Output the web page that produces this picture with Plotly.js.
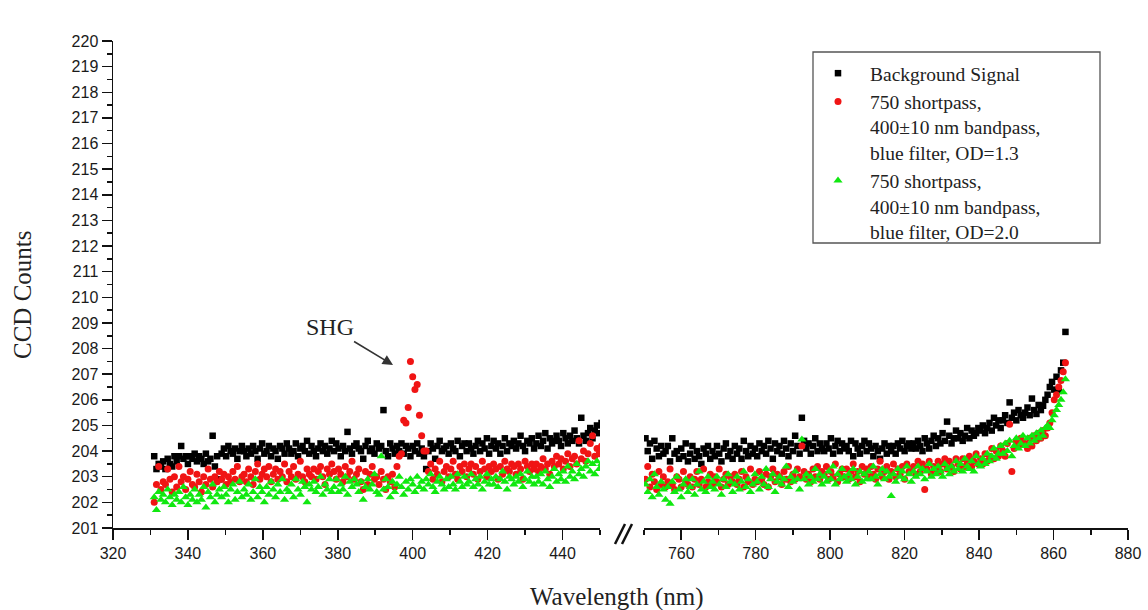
<!DOCTYPE html>
<html>
<head>
<meta charset="utf-8">
<script src="https://cdn.plot.ly/plotly-3.0.1.min.js"></script>
<style>html,body{margin:0;padding:0;background:#fff;}#chart{width:1148px;height:610px;}</style>
</head>
<body>
<div id="chart"></div>
<script>
// ---------- DATA ----------
const seriesNames = [
  "Background Signal",
  "750 shortpass,<br>400\u00b110 nm bandpass,<br>blue filter, OD=1.3",
  "750 shortpass,<br>400\u00b110 nm bandpass,<br>blue filter, OD=2.0"
];

const wlLeft = [
331,331.6,332.2,332.8,333.4,334,334.6,335.2,335.8,336.4,
337,337.6,338.2,338.8,339.4,340,340.6,341.2,341.8,342.4,
343,343.6,344.2,344.8,345.4,346,346.6,347.2,347.8,348.4,
349,349.6,350.2,350.8,351.4,352,352.6,353.2,353.8,354.4,
355,355.6,356.2,356.8,357.4,358,358.6,359.2,359.8,360.4,
361,361.6,362.2,362.8,363.4,364,364.6,365.2,365.8,366.4,
367,367.6,368.2,368.8,369.4,370,370.6,371.2,371.8,372.4,
373,373.6,374.2,374.8,375.4,376,376.6,377.2,377.8,378.4,
379,379.6,380.2,380.8,381.4,382,382.6,383.2,383.8,384.4,
385,385.6,386.2,386.8,387.4,388,388.6,389.2,389.8,390.4,
391,391.6,392.2,392.8,393.4,394,394.6,395.2,395.8,396.4,
397,397.6,398.2,398.8,399.4,400,400.6,401.2,401.8,402.4,
403,403.6,404.2,404.8,405.4,406,406.6,407.2,407.8,408.4,
409,409.6,410.2,410.8,411.4,412,412.6,413.2,413.8,414.4,
415,415.6,416.2,416.8,417.4,418,418.6,419.2,419.8,420.4,
421,421.6,422.2,422.8,423.4,424,424.6,425.2,425.8,426.4,
427,427.6,428.2,428.8,429.4,430,430.6,431.2,431.8,432.4,
433,433.6,434.2,434.8,435.4,436,436.6,437.2,437.8,438.4,
439,439.6,440.2,440.8,441.4,442,442.6,443.2,443.8,444.4,
445,445.6,446.2,446.8,447.4,448,448.6,449.2,449.8,450.4
];

const bgLeft = [
203.8,203.3,203.5,203.4,203.6,203.3,203.7,203.5,203.4,203.8,
203.6,203.8,204.2,203.7,203.8,203.5,203.8,203.7,203.9,203.6,
203.8,203.7,203.5,203.9,203.6,203.7,204.6,203.4,203.8,202.9,
203.9,204.1,203.8,204.2,204.0,203.9,204.1,203.7,204.0,204.2,
204.0,203.8,204.1,203.9,204.2,204.0,203.7,204.1,204.3,203.9,
204.0,204.2,203.8,204.1,204.0,203.7,204.2,204.1,203.9,204.3,
204.1,203.9,204.0,204.3,203.8,204.1,204.2,204.0,204.4,203.9,
204.2,204.0,203.8,204.1,204.3,204.0,204.2,203.9,204.1,204.4,
204.0,204.3,204.1,203.8,204.2,204.0,204.75,204.1,203.9,204.2,
204.3,204.1,204.0,203.7,204.2,204.4,204.0,204.1,203.9,204.3,
204.1,204.2,205.6,204.0,203.8,204.3,204.1,203.9,204.2,204.0,
204.3,203.9,204.2,204.1,203.8,204.2,204.0,204.3,203.9,204.1,
203.8,203.3,204.0,204.3,204.1,203.7,204.2,204.4,204.0,204.1,
204.2,203.9,204.3,204.1,204.0,204.4,203.8,204.2,204.3,204.0,
204.3,204.1,203.9,204.2,204.4,204.0,204.3,204.1,204.5,203.9,
204.2,204.4,204.1,204.3,203.9,204.2,204.5,204.0,204.3,204.2,
204.4,204.1,204.3,204.6,204.2,204.0,204.4,204.3,204.5,204.1,
204.3,204.6,204.2,204.4,204.7,204.1,204.5,204.3,204.4,204.6,
204.4,204.2,204.7,204.5,204.3,204.6,204.4,204.8,204.5,204.3,
205.3,204.6,204.4,204.7,204.9,204.5,204.8,205.0,204.7,205.1
];

const od13Left = [
202.0,202.7,203.4,202.5,202.8,202.7,203.3,202.9,202.4,203.0,
202.6,203.4,202.8,203.0,202.5,202.9,203.2,202.7,202.6,203.1,
202.8,202.4,203.0,202.7,203.3,202.9,202.6,203.0,202.8,203.2,
202.9,203.1,202.7,203.0,202.8,203.2,202.9,203.4,202.8,203.0,
203.1,202.8,203.3,203.0,202.7,203.2,203.5,202.9,203.1,203.3,
203.0,203.4,202.8,203.1,203.3,202.9,203.2,203.0,203.5,202.8,
203.2,203.0,203.4,202.9,203.1,203.6,203.0,202.8,203.3,203.1,
203.0,203.3,202.9,203.2,203.4,203.0,202.7,203.3,203.1,203.5,
203.2,202.9,203.3,203.1,202.8,203.4,203.0,203.2,203.6,202.9,
203.1,203.3,202.8,202.5,203.2,202.7,203.1,203.4,202.9,203.0,
202.7,203.2,202.9,202.5,203.0,202.8,203.1,202.6,203.4,203.8,
203.9,205.2,205.1,205.7,207.5,206.9,206.4,206.6,205.4,204.6,
204.0,204.0,203.2,203.5,202.9,203.3,203.1,203.6,202.8,203.2,
203.4,203.0,203.3,203.6,203.1,202.9,203.4,203.2,203.5,203.0,
203.3,203.5,203.1,203.4,202.9,203.2,203.6,203.3,203.0,203.4,
203.2,203.5,203.3,202.9,203.4,203.1,203.6,203.3,203.2,203.5,
203.4,203.1,203.5,203.3,202.9,203.6,203.4,203.2,203.5,203.3,
203.5,203.2,203.4,203.7,203.3,203.5,203.1,203.6,203.4,203.8,
203.5,203.7,203.3,203.6,203.9,203.4,203.7,203.8,203.5,204.4,
203.7,204.0,203.6,203.9,204.3,204.6,203.8,204.1,203.9,204.2
];

const od20Left = [
202.2,201.7,202.4,202.1,202.3,202.0,202.5,202.2,201.9,202.3,
202.1,202.4,202.0,202.6,202.2,201.9,202.3,202.1,202.5,202.0,
202.3,202.1,202.6,201.8,202.4,202.2,202.7,202.0,202.3,202.5,
202.2,202.6,202.3,202.0,202.5,202.7,202.1,202.4,202.8,202.2,
202.5,202.3,202.7,202.1,202.4,202.9,202.2,202.6,202.4,202.0,
202.6,202.3,202.8,202.5,202.2,202.7,202.4,202.9,202.1,202.5,
202.4,202.7,202.2,202.9,202.5,202.3,202.8,202.6,202.0,202.7,
202.5,202.8,202.4,202.6,203.0,202.3,202.7,202.5,202.9,202.4,
202.6,202.9,202.4,202.7,202.5,203.0,202.3,202.8,202.6,202.9,
202.7,202.4,202.8,202.1,202.6,202.9,202.5,202.7,203.1,202.4,
202.3,203.8,202.5,202.9,202.6,202.2,202.8,202.4,202.7,203.0,
202.6,202.3,202.8,202.5,202.9,202.7,202.4,203.0,202.6,202.8,
202.5,202.9,202.7,203.1,202.6,202.4,202.8,203.0,202.7,202.5,
202.9,202.6,203.0,202.7,202.5,203.1,202.8,202.6,203.0,202.7,
202.8,203.1,202.6,202.9,202.7,203.0,202.5,202.8,203.1,202.7,
202.9,202.7,203.0,202.6,202.9,203.2,202.8,202.5,203.0,202.9,
202.7,203.0,202.8,203.1,202.6,202.9,203.2,202.8,203.0,202.7,
203.0,202.8,203.1,202.7,203.2,202.9,202.6,203.0,203.3,202.8,
203.1,202.9,203.2,202.8,203.4,203.0,203.2,202.9,203.5,203.1,
203.3,203.0,203.4,203.6,203.2,203.5,203.1,203.6,203.3,203.5
];

const wlRight = [
750.4,751,751.6,752.2,752.8,753.4,754,754.6,755.2,755.8,
756.4,757,757.6,758.2,758.8,759.4,760,760.6,761.2,761.8,
762.4,763,763.6,764.2,764.8,765.4,766,766.6,767.2,767.8,
768.4,769,769.6,770.2,770.8,771.4,772,772.6,773.2,773.8,
774.4,775,775.6,776.2,776.8,777.4,778,778.6,779.2,779.8,
780.4,781,781.6,782.2,782.8,783.4,784,784.6,785.2,785.8,
786.4,787,787.6,788.2,788.8,789.4,790,790.6,791.2,791.8,
792.4,793,793.6,794.2,794.8,795.4,796,796.6,797.2,797.8,
798.4,799,799.6,800.2,800.8,801.4,802,802.6,803.2,803.8,
804.4,805,805.6,806.2,806.8,807.4,808,808.6,809.2,809.8,
810.4,811,811.6,812.2,812.8,813.4,814,814.6,815.2,815.8,
816.4,817,817.6,818.2,818.8,819.4,820,820.6,821.2,821.8,
822.4,823,823.6,824.2,824.8,825.4,826,826.6,827.2,827.8,
828.4,829,829.6,830.2,830.8,831.4,832,832.6,833.2,833.8,
834.4,835,835.6,836.2,836.8,837.4,838,838.6,839.2,839.8,
840.4,841,841.6,842.2,842.8,843.4,844,844.6,845.2,845.8,
846.4,847,847.6,848.2,848.8,849.4,850,850.6,851.2,851.8,
852.4,853,853.6,854.2,854.8,855.4,856,856.6,857.2,857.8,
858.4,859,859.6,860.2,860.8,861.4,862,862.6,863.2
];

const bgRight = [
204.5,204.0,204.3,203.7,204.4,204.1,203.8,204.2,203.9,204.0,
204.2,203.6,204.5,203.9,204.0,203.7,204.1,203.8,204.3,203.6,
203.9,204.2,203.7,204.0,203.8,203.5,204.1,203.9,204.2,203.7,
204.0,203.8,204.2,203.9,203.6,204.1,204.3,203.8,204.0,203.7,
204.2,203.9,204.1,203.7,204.4,204.0,203.8,204.2,203.9,204.1,
203.8,204.3,204.0,204.2,203.9,204.4,204.1,203.7,204.3,204.0,
204.2,203.9,204.4,204.1,203.8,204.3,204.0,204.6,204.2,203.9,
205.3,204.4,204.1,204.3,203.9,204.2,204.5,204.0,204.3,204.1,
204.0,204.3,204.1,204.5,203.9,204.2,204.4,204.0,204.3,204.1,
204.2,204.0,204.4,203.8,204.3,204.1,203.9,204.2,204.4,204.0,
204.3,204.1,203.8,204.2,204.0,203.7,204.1,204.3,203.9,204.2,
204.0,204.2,203.9,204.3,204.1,204.4,204.0,204.2,204.3,204.1,
204.3,204.1,204.4,204.2,204.0,204.5,204.3,204.1,204.4,204.6,
204.2,204.5,204.3,204.7,204.4,205.15,204.6,204.3,204.5,204.8,
204.5,204.7,204.4,204.6,204.9,204.5,204.8,204.6,204.7,204.9,
204.8,205.0,204.7,204.9,205.1,204.8,205.3,205.0,205.2,204.9,
205.2,205.4,205.1,205.9,205.3,205.5,205.2,205.6,205.4,205.3,
205.5,205.7,205.4,206.05,205.6,205.45,205.8,205.6,205.77,206.0,
206.2,206.5,206.7,206.4,206.9,206.35,207.15,207.45,208.65
];

const od13Right = [
202.9,203.4,202.6,203.1,202.8,202.5,203.2,202.7,203.0,202.6,
202.8,203.3,202.7,202.5,203.0,202.9,202.6,203.2,202.8,202.7,
203.0,202.6,202.9,203.2,202.7,202.9,203.3,202.6,202.8,203.1,
202.7,203.0,202.8,203.3,202.6,202.9,203.1,202.7,203.0,202.8,
203.1,202.7,202.9,203.2,202.6,203.0,202.8,203.3,202.7,202.9,
202.8,203.2,202.9,202.7,203.1,202.6,203.0,203.3,202.8,203.1,
203.0,202.7,203.2,202.9,203.4,202.8,203.1,202.9,203.3,203.0,
204.2,203.2,202.9,203.1,202.8,203.3,203.0,203.4,202.9,203.2,
203.1,203.4,202.9,203.2,203.0,203.5,202.8,203.1,203.3,203.0,
203.3,202.9,203.2,203.5,203.0,203.2,202.8,203.4,203.1,203.3,
203.0,203.4,203.1,202.9,203.3,203.6,203.0,203.2,203.4,202.9,
203.2,203.5,203.0,203.3,203.1,203.4,202.9,203.5,203.2,203.3,
203.4,203.1,203.6,203.2,203.5,202.5,203.3,203.6,203.1,203.4,
203.3,203.6,203.2,203.5,203.7,203.3,203.6,203.4,203.2,203.7,
203.5,203.3,203.7,203.4,203.6,203.8,203.4,203.6,203.9,203.5,
203.7,203.5,203.9,203.6,203.8,204.1,203.7,204.0,203.8,204.2,
204.0,203.8,204.3,205.05,203.2,204.1,204.4,204.2,204.5,204.3,
204.3,204.1,204.5,204.2,204.6,204.4,204.7,204.5,204.8,204.6,
204.9,205.1,205.5,206.0,206.2,206.5,206.75,207.1,207.45
];

const od20Right = [
202.7,202.4,202.9,202.2,203.1,202.6,202.3,202.8,202.5,202.1,
202.6,201.95,202.8,202.4,203.0,202.5,202.2,202.7,202.9,202.4,
202.6,202.9,202.3,202.7,203.2,202.5,202.8,202.4,203.0,202.6,
202.8,202.5,203.0,202.7,202.3,202.9,202.6,203.1,202.8,202.4,
202.7,203.0,202.5,202.8,203.2,202.6,202.9,202.4,202.7,203.1,
202.8,202.5,203.0,202.7,203.3,202.6,202.9,203.1,202.4,202.8,
203.0,202.7,202.9,203.4,202.6,203.0,202.8,203.2,202.9,202.5,
204.45,202.9,203.1,202.7,203.0,202.8,203.3,202.9,203.1,202.7,
203.0,202.8,203.2,202.9,203.4,202.7,203.1,202.9,203.3,203.0,
202.8,203.1,202.9,203.3,202.7,203.0,203.2,202.8,203.1,202.9,
203.2,202.9,203.4,203.0,202.7,203.1,203.3,202.9,203.2,203.0,
202.25,203.1,202.8,203.3,203.0,203.2,202.9,203.4,203.1,202.8,
203.2,203.0,203.4,203.1,203.3,202.9,203.2,203.5,203.0,203.3,
203.1,203.4,203.2,203.0,203.5,203.3,203.1,203.4,203.2,203.6,
203.3,203.5,203.2,203.7,203.4,203.3,203.6,203.2,203.8,203.5,
203.4,203.7,203.5,203.9,203.6,203.8,204.1,203.7,203.9,204.2,
203.9,204.3,204.0,204.4,203.8,204.2,204.5,204.1,204.3,204.6,
204.2,204.5,204.3,204.6,204.4,204.7,204.5,204.8,204.6,204.9,
205.0,204.9,205.2,205.4,205.6,205.8,206.0,206.3,206.8
];

// ---------- STYLE ----------
const styles = [
  {color: '#000000', symbol: 'square', size: 6.5},
  {color: '#f01414', symbol: 'circle', size: 7},
  {color: '#10e810', symbol: 'triangle-up', size: 8}
];
const leftY = [bgLeft, od13Left, od20Left];
const rightY = [bgRight, od13Right, od20Right];

const traces = [];
for (let i = 0; i < 3; i++) {
  traces.push({
    x: wlLeft, y: leftY[i], xaxis: 'x', yaxis: 'y', type: 'scatter', mode: 'markers',
    name: seriesNames[i], legendgroup: 'g' + i, showlegend: true,
    marker: {color: styles[i].color, symbol: styles[i].symbol, size: styles[i].size, line: {width: 0}}
  });
}
for (let i = 0; i < 3; i++) {
  traces.push({
    x: wlRight, y: rightY[i], xaxis: 'x2', yaxis: 'y', type: 'scatter', mode: 'markers',
    name: seriesNames[i], legendgroup: 'g' + i, showlegend: false,
    marker: {color: styles[i].color, symbol: styles[i].symbol, size: styles[i].size, line: {width: 0}}
  });
}

const W = 1148, H = 610;
const M = {l: 113, r: 20, t: 41, b: 82};
const PW = W - M.l - M.r, PH = H - M.t - M.b;
const px = v => (v - M.l) / PW;
const py = v => (H - M.b - v) / PH;

const tickFont = {family: 'Liberation Sans, Arial, sans-serif', size: 16, color: '#1a1a1a'};
const serif = 'Liberation Serif, Times New Roman, serif';

const xCommon = {
  showgrid: false, zeroline: false, showline: true, linecolor: '#111', linewidth: 1.5,
  ticks: 'outside', ticklen: 10, tickwidth: 1.5, tickcolor: '#111', tickfont: tickFont,
  dtick: 20, anchor: 'y',
  minor: {dtick: 10, ticks: 'outside', ticklen: 5, tickwidth: 1.5, tickcolor: '#111', showgrid: false}
};

const layout = {
  width: W, height: H, margin: M,
  paper_bgcolor: '#ffffff', plot_bgcolor: 'rgba(0,0,0,0)',
  showlegend: true,
  xaxis: Object.assign({}, xCommon, {domain: [0, px(600)], range: [320, 450], tick0: 320}),
  xaxis2: Object.assign({}, xCommon, {domain: [px(644), 1], range: [750, 880], tick0: 760}),
  yaxis: {
    range: [201, 220], dtick: 1, tick0: 201, showgrid: false, zeroline: false,
    showline: true, linecolor: '#111', linewidth: 1.5,
    ticks: 'outside', ticklen: 10, tickwidth: 1.5, tickcolor: '#111', tickfont: tickFont,
    minor: {dtick: 0.5, ticks: 'outside', ticklen: 5, tickwidth: 1.5, tickcolor: '#111', showgrid: false}
  },
  legend: {
    x: px(806), y: py(54), xanchor: 'left', yanchor: 'top',
    bgcolor: 'rgba(0,0,0,0)', borderwidth: 0, valign: 'top', tracegroupgap: 0,
    itemwidth: 54,
    font: {family: serif, size: 19.5, color: '#222'}
  },
  shapes: [
    {type: 'rect', xref: 'paper', yref: 'paper', x0: px(813), x1: px(1100), y0: py(243), y1: py(52),
     line: {color: '#555', width: 1.3}, fillcolor: 'rgba(0,0,0,0)'},
    {type: 'line', xref: 'paper', yref: 'paper', x0: px(615), y0: py(544), x1: px(625), y1: py(524),
     line: {color: '#111', width: 2.5}},
    {type: 'line', xref: 'paper', yref: 'paper', x0: px(622), y0: py(544), x1: px(632), y1: py(524),
     line: {color: '#111', width: 2.5}}
  ],
  annotations: [
    {text: 'CCD Counts', xref: 'paper', yref: 'paper', x: px(22), y: py(295), textangle: -90,
     showarrow: false, xanchor: 'center', yanchor: 'middle', font: {family: serif, size: 25, color: '#222'}},
    {text: 'Wavelength (nm)', xref: 'paper', yref: 'paper', x: px(617), y: py(597),
     showarrow: false, xanchor: 'center', yanchor: 'middle', font: {family: serif, size: 25, color: '#222'}},
    {text: 'SHG', xref: 'x', yref: 'y', x: 394.75, y: 207.36, ax: -63, ay: -38,
     showarrow: true, arrowhead: 2, arrowsize: 1.3, arrowwidth: 1.6, arrowcolor: '#333',
     font: {family: serif, size: 24, color: '#222'}}
  ]
};

Plotly.newPlot('chart', traces, layout, {displayModeBar: false, staticPlot: true});
</script>
</body>
</html>
